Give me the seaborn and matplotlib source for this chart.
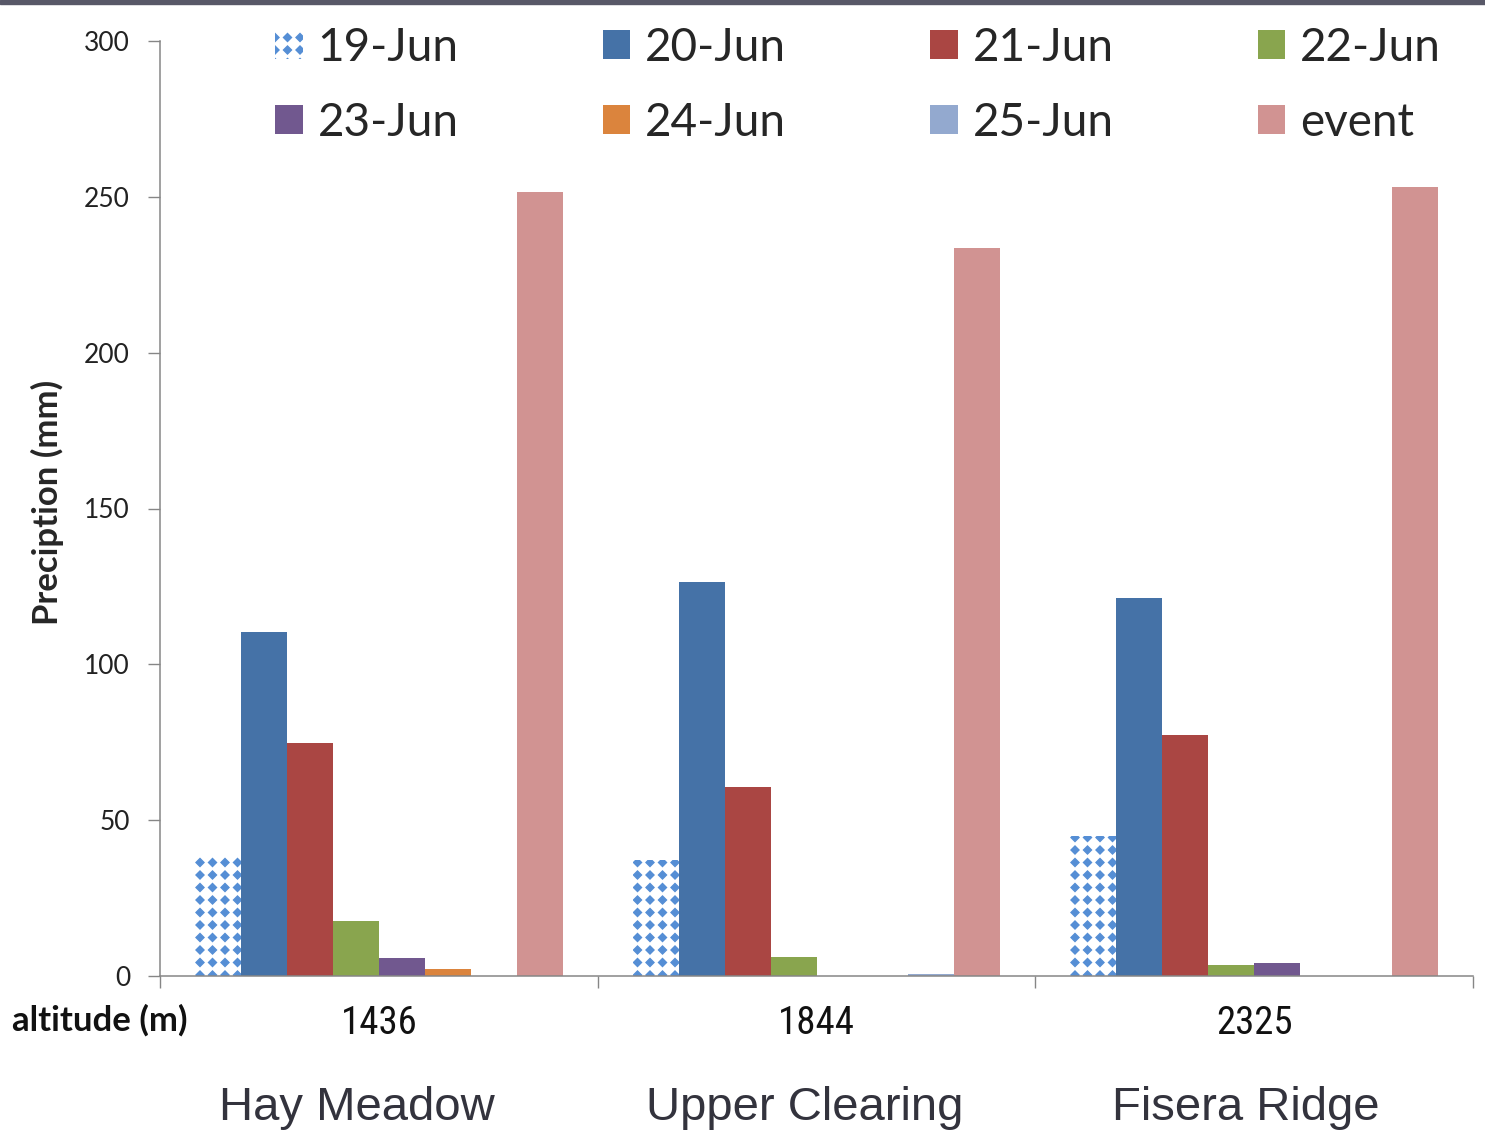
import matplotlib
matplotlib.use("Agg")
import matplotlib.pyplot as plt
import matplotlib.hatch as mhatch
from matplotlib.path import Path
import numpy as np
import seaborn as sns
import pandas as pd

# Daily precipitation (mm) at the three stations, 19-25 June, plus event total
sites = ["Hay Meadow", "Upper Clearing", "Fisera Ridge"]
altitudes = ["1436", "1844", "2325"]
dates = ["19-Jun", "20-Jun", "21-Jun", "22-Jun", "23-Jun", "24-Jun", "25-Jun", "event"]

jun19 = [38.5, 37.2, 44.9]
jun20 = [110.4, 126.4, 121.3]
jun21 = [74.8, 60.6, 77.3]
jun22 = [17.6, 6.1, 3.5]
jun23 = [5.8, 0.0, 4.2]
jun24 = [2.2, 0.0, 0.0]
jun25 = [0.0, 0.5, 0.0]
event = [251.5, 233.6, 253.1]

colors = ["#FFFFFF", "#4572A7", "#AA4643", "#89A54E", "#71588F",
          "#DB843D", "#93A9CF", "#D19392"]
hatch_color = "#558ED5"


class DiamondGrid(mhatch.HatchPatternBase):
    """Square grid of small filled diamonds, selected by '*' in a hatch string."""
    size = 0.64

    def __init__(self, hatch, density):
        self.num_rows = hatch.count("*") * 8
        self.num_vertices = 5 * (self.num_rows + 1) ** 2 if self.num_rows else 0

    def set_vertices_and_codes(self, vertices, codes):
        n = self.num_rows
        step = 1.0 / n
        h = step * self.size / 2
        shape = np.array([[0, -h], [h, 0], [0, h], [-h, 0], [0, -h]])
        shape_codes = [Path.MOVETO, Path.LINETO, Path.LINETO, Path.LINETO,
                       Path.CLOSEPOLY]
        k = 0
        for r in range(n + 1):
            for c in range(n + 1):
                vertices[k:k + 5] = shape + [c * step, r * step]
                codes[k:k + 5] = shape_codes
                k += 5


mhatch._hatch_types = [t for t in mhatch._hatch_types if t is not mhatch.Stars]
mhatch._hatch_types.append(DiamondGrid)

series = [jun19, jun20, jun21, jun22, jun23, jun24, jun25, event]
rows = []
for d, vals in zip(dates, series):
    for alt, v in zip(altitudes, vals):
        rows.append({"altitude": alt, "date": d, "precip": v})
df = pd.DataFrame(rows)

sns.set_style("white")
plt.rcParams["font.family"] = ["Lato", "DejaVu Sans"]
plt.rcParams["hatch.linewidth"] = 1.0

narrow = ["Liberation Sans Narrow", "Roboto Condensed", "DejaVu Sans Condensed",
          "Open Sans Condensed", "Liberation Sans"]

fig = plt.figure(figsize=(14.85, 11.34), dpi=100)
ax = fig.add_axes([160 / 1485, 1 - 976 / 1134, (1473 - 160) / 1485, (976 - 41) / 1134])

sns.barplot(data=df, x="altitude", y="precip", hue="date", order=altitudes,
            hue_order=dates, palette=colors, saturation=1, width=0.84,
            linewidth=0, legend=False, ax=ax)

# patterned first-day series
for bar in ax.containers[0]:
    bar.set_facecolor("white")
    bar.set_edgecolor(hatch_color)
    bar.set_hatch("*")
    bar.set_linewidth(0)

ax.set_ylim(0, 300)
ax.set_xlim(-0.5, 2.5)
ax.set_yticks([0, 50, 100, 150, 200, 250, 300])
ax.tick_params(axis="y", which="major", length=8.6, width=1.0, color="#868686",
               pad=13, labelsize=19, labelcolor="#222222", left=True)

ax.set_xticks([-0.5, 0.5, 1.5, 2.5], labels=["", "", "", ""])
ax.set_xticks([0, 1, 2], labels=altitudes, minor=True)
ax.tick_params(axis="x", which="major", length=8.6, width=1.0, color="#868686",
               bottom=True)
ax.tick_params(axis="x", which="minor", length=0, pad=21, labelsize=28,
               bottom=True)
for lbl in ax.get_xticklabels(minor=True):
    lbl.set_family(narrow)
    lbl.set_color("#111111")

for side in ["top", "right"]:
    ax.spines[side].set_visible(False)
for side in ["left", "bottom"]:
    ax.spines[side].set_color("#868686")
    ax.spines[side].set_linewidth(1.1)

ax.set_xlabel("")
ax.set_ylabel("Preciption (mm)", fontsize=25, fontweight="bold")
ax.yaxis.set_label_coords(-0.073, 0.506)

# legend: two rows of four, filled row by row
order = [0, 4, 1, 5, 2, 6, 3, 7]
handles = [ax.containers[i] for i in order]
labels = [dates[i] for i in order]
ax.legend(handles, labels, ncol=4, loc="upper left",
          bbox_to_anchor=((275 - 160) / (1473 - 160), 1.015), frameon=False,
          fontsize=33, handlelength=0.6, handleheight=0.6,
          handletextpad=0.33, columnspacing=3.14, labelspacing=0.72,
          borderpad=0, borderaxespad=0)

fig.text(12 / 1485, 1 - 1020 / 1134, "altitude (m)", fontsize=25,
         fontweight="bold", ha="left", va="center", color="#111111")

site_x = [357, 805, 1246]
for name, x in zip(sites, site_x):
    fig.text(x / 1485, 1 - 1108 / 1134, name, fontsize=34, ha="center",
             va="center", color="#33333d",
             family=["Liberation Sans", "DejaVu Sans"])

# dark rule along the top edge
fig.add_artist(plt.Rectangle((0, 1 - 4 / 1134), 1, 4 / 1134,
                             transform=fig.transFigure, color="#585868",
                             zorder=10))

fig.savefig("out.png", dpi=100, facecolor="white")
